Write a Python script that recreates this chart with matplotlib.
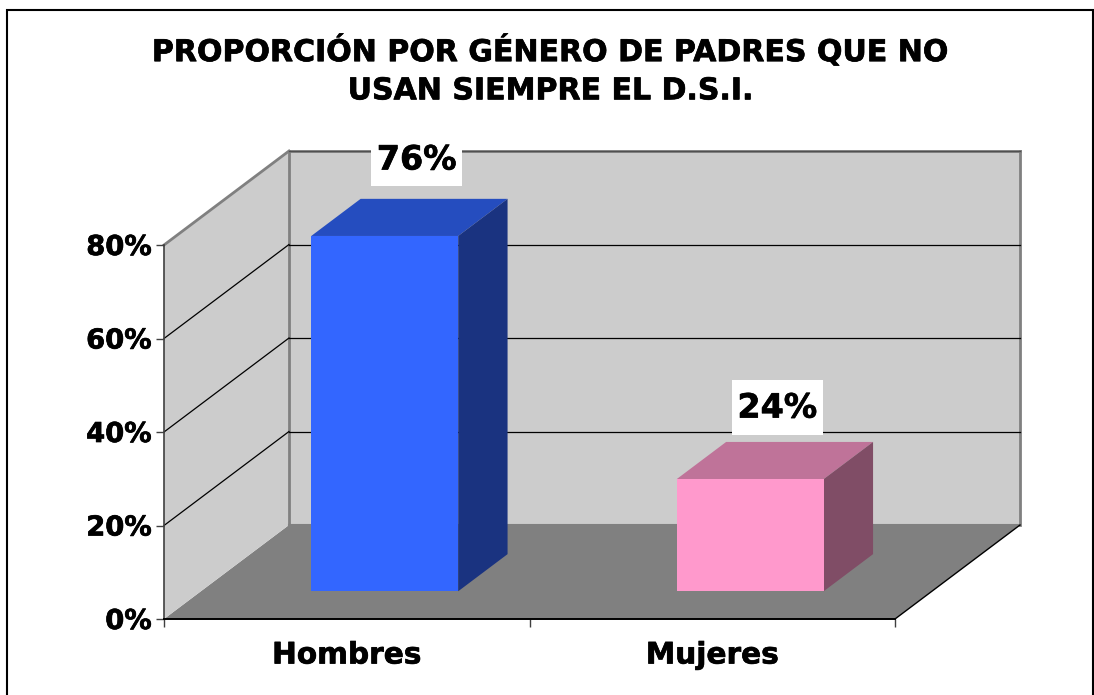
import matplotlib

matplotlib.use("Agg")
import matplotlib.patheffects as pe
import matplotlib.pyplot as plt
from matplotlib.patches import Polygon, Rectangle

CATEGORIES = ["Hombres", "Mujeres"]
VALUES = [76, 24]
LABELS = ["76%", "24%"]
Y_TICKS = [0, 20, 40, 60, 80]
Y_LABELS = ["0%", "20%", "40%", "60%", "80%"]
TITLE = "PROPORCIÓN POR GÉNERO DE PADRES QUE NO\nUSAN SIEMPRE EL D.S.I."

BAR_COLORS = ["#3366FF", "#FF99CC"]
TOP_COLORS = ["#254DBF", "#BF7399"]
SIDE_COLORS = ["#1A3380", "#804D66"]

W, H = 1094, 695

# oblique projection: how far one full unit of depth moves a point, in data units
DEPTH_X = 125 / 365.5
DEPTH_Y = 94 / 4.675
BAR_WIDTH = 0.402
BAR_FRONT = 0.295
BAR_BACK = 0.69
BAR_SHIFT = 0.003
# label box centre relative to the middle of the bar's front top edge, in pixels
LABEL_OFFSETS = [(32, 77), (27, 72)]
LABEL_BOX = (91, 55)
# the original font is a little heavier than DejaVu Sans Bold
HEAVY = [pe.withStroke(linewidth=0.5, foreground="black")]


def proj(x, y, depth=0.0):
    return (x + depth * DEPTH_X, y + depth * DEPTH_Y)


def face(ax, pts, color, z=2):
    ax.add_patch(Polygon(pts, closed=True, facecolor=color, edgecolor=color,
                         linewidth=0.0, clip_on=False, zorder=z))


def main() -> None:
    fig = plt.figure(figsize=(W / 100, H / 100), dpi=100, facecolor="white")
    fig.add_artist(Rectangle((7 / W, -0.02), 1086 / W, 1 - 10 / H + 0.02, transform=fig.transFigure,
                             facecolor="none", edgecolor="black", linewidth=1.5))

    ax = fig.add_axes([164 / W, (H - 619) / H, 731 / W, 374 / H])
    ax.set_xlim(0, 2)
    ax.set_ylim(0, 80)
    ax.patch.set_visible(False)
    for side in ["top", "right"]:
        ax.spines[side].set_visible(False)
    ax.spines["left"].set_color("#404040")
    ax.spines["bottom"].set_color("black")
    ax.spines["left"].set_linewidth(1.2)
    ax.spines["bottom"].set_linewidth(1.4)
    ax.spines["left"].set_zorder(1.5)

    # walls and floor
    y_top = Y_TICKS[-1]
    face(ax, [proj(0, 0), proj(0, 0, 1), proj(2, 0, 1), proj(2, 0)], "#808080", z=1)
    face(ax, [proj(0, 0), proj(0, y_top), proj(0, y_top, 1), proj(0, 0, 1)], "#CCCCCC", z=1)
    face(ax, [proj(0, 0, 1), proj(0, y_top, 1), proj(2, y_top, 1), proj(2, 0, 1)], "#CCCCCC", z=1)

    # wall outlines
    wall_grey = "#808080"
    for a, b in [((0, y_top, 0), (0, y_top, 1)), ((0, y_top, 1), (2, y_top, 1)),
                 ((0, y_top, 1), (0, 0, 1)), ((2, y_top, 1), (2, 0, 1)), ((0, 0, 1), (2, 0, 1))]:
        pa, pb = proj(*a), proj(*b)
        ax.plot([pa[0], pb[0]], [pa[1], pb[1]], color=wall_grey, lw=2.0 if a[1] or b[1] else 1.5,
                clip_on=False, zorder=1.2, solid_capstyle="projecting")

    # grid lines
    for v in Y_TICKS[1:]:
        lw = 0.9
        pa, pb, pc = proj(0, v), proj(0, v, 1), proj(2, v, 1)
        if v < y_top:
            ax.plot([pa[0], pb[0]], [pa[1], pb[1]], color="black", lw=lw, clip_on=False, zorder=1.3)
        ax.plot([pb[0], pc[0]], [pb[1], pc[1]], color="black" if v < y_top else "#505050",
                lw=lw, clip_on=False, zorder=1.3)

    # front edge of the floor on the right
    pa, pb = proj(2, 0), proj(2, 0, 1)
    ax.plot([pa[0], pb[0]], [pa[1], pb[1]], color="black", lw=1.0, clip_on=False, zorder=1.4)

    # bars
    for i, v in enumerate(VALUES):
        x0 = i + 0.5 + BAR_SHIFT - BAR_WIDTH / 2
        x1 = i + 0.5 + BAR_SHIFT + BAR_WIDTH / 2
        face(ax, [proj(x0, v, BAR_FRONT), proj(x1, v, BAR_FRONT), proj(x1, v, BAR_BACK), proj(x0, v, BAR_BACK)],
             TOP_COLORS[i], z=3)
        face(ax, [proj(x1, 0, BAR_FRONT), proj(x1, v, BAR_FRONT), proj(x1, v, BAR_BACK), proj(x1, 0, BAR_BACK)],
             SIDE_COLORS[i], z=3)
        face(ax, [proj(x0, 0, BAR_FRONT), proj(x1, 0, BAR_FRONT), proj(x1, v, BAR_FRONT), proj(x0, v, BAR_FRONT)],
             BAR_COLORS[i], z=4)

        # white label box sized in pixels, anchored on the bar through the data transform
        top_mid = proj(i + 0.5 + BAR_SHIFT, v, BAR_FRONT)
        cx, cy = ax.transData.transform(top_mid)
        cx += LABEL_OFFSETS[i][0]
        cy += LABEL_OFFSETS[i][1]
        bw, bh = LABEL_BOX
        fig.add_artist(Rectangle(((cx - bw / 2) / W, (cy - bh / 2) / H), bw / W, bh / H, transform=fig.transFigure,
                                 facecolor="white", edgecolor="none", zorder=6))
        fig.text(cx / W, (cy + 2.5) / H, LABELS[i], ha="center", va="center_baseline", fontsize=24,
                 fontweight="bold", color="black", zorder=7, path_effects=HEAVY)

    # ticks and labels
    ax.set_yticks(Y_TICKS)
    ax.set_yticklabels(Y_LABELS, fontsize=19.7, fontweight="bold", va="center_baseline", path_effects=HEAVY)
    ax.set_xticks([0, 1, 2])
    ax.set_xticklabels([])
    ax.tick_params(axis="y", length=6, width=1.0, color="#404040", pad=3)
    ax.tick_params(axis="x", length=6, width=1.0, color="#404040")
    for i, name in enumerate(CATEGORIES):
        ax.annotate(name, (i + 0.5, 0), xytext=(0, -36), textcoords="offset pixels", ha="center", va="center",
                    fontsize=21.3, fontweight="bold", annotation_clip=False, path_effects=HEAVY)

    fig.text(550.5 / W, 1 - 70 / H, TITLE, ha="center", va="center", fontsize=21.6, fontweight="bold",
             linespacing=1.4, path_effects=HEAVY)

    fig.savefig("out.png", dpi=100)


if __name__ == "__main__":
    main()
